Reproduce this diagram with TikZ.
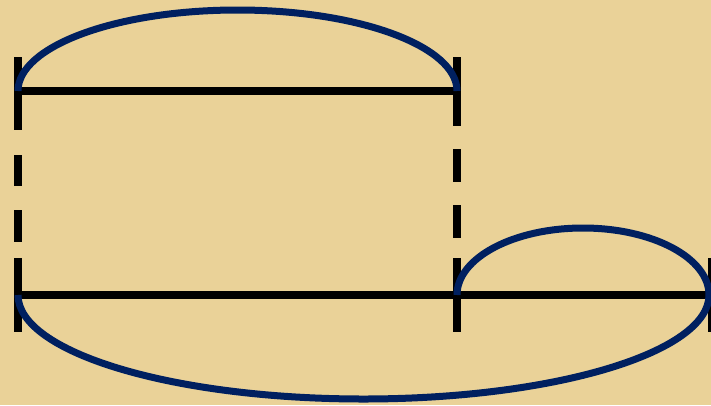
\documentclass[tikz,border=0pt]{standalone}
\definecolor{parch}{RGB}{234,210,152}
\definecolor{navy}{RGB}{0,32,96}
\begin{document}
\begin{tikzpicture}[x=1pt,y=-1pt,
  seg/.style={line width=7.5pt,black,line cap=butt},
  tickline/.style={line width=8pt,black,line cap=butt},
  curve/.style={line width=7pt,navy,line cap=butt}]
\fill[parch] (0,0) rectangle (711,405);
\useasboundingbox (0,0) rectangle (711,405);
% named points
\coordinate (TL) at (18,91);
\coordinate (TR) at (457,91);
\coordinate (BL) at (18,295);
\coordinate (BM) at (457,295);
\coordinate (BR) at (711,295);
% horizontal segments
\draw[seg] (TL) -- (TR);
\draw[seg] (BL) -- (BR);
% ticks
\draw[tickline] (18,57) -- (18,130);
\draw[tickline] (457,57) -- (457,126);
\draw[tickline] (18,258) -- (18,332);
\draw[tickline] (457,258) -- (457,332);
\draw[tickline] (712,258) -- (712,332);
% dashes
\draw[tickline] (18,155) -- (18,186);
\draw[tickline] (18,210) -- (18,242);
\draw[tickline] (457,149) -- (457,182);
\draw[tickline] (457,205) -- (457,238);
% arcs
\draw[curve] (18,91) arc[start angle=180,end angle=360,x radius=219.5,y radius=81];
\draw[curve] (457,295) arc[start angle=180,end angle=360,x radius=126,y radius=67];
\draw[curve] (18,295) arc[start angle=180,end angle=0,x radius=345.5,y radius=104];
\end{tikzpicture}
\end{document}
